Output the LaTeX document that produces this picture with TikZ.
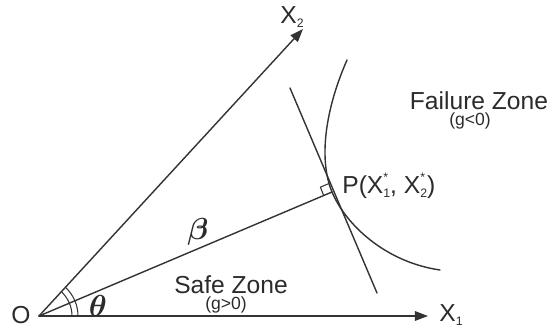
\documentclass[tikz,border=0pt]{standalone}
\usepackage{amsmath,amssymb,bm}
\usepackage{fontspec}
\setsansfont{Liberation Sans}
\usepackage{xcolor}
\usepackage{tikz}
\usetikzlibrary{arrows.meta,calc,positioning}
\definecolor{rlInk}{HTML}{2B2B2B}
\definecolor{rlLine}{HTML}{333333}
\newcommand{\xsub}[1]{X\raisebox{-0.25ex}{\fontsize{7}{8}\selectfont #1}}
\newcommand{\xstar}[1]{X\rlap{\raisebox{0.95ex}{\fontsize{7}{8}\selectfont *}}\raisebox{-0.25ex}{\fontsize{7}{8}\selectfont #1}}
\tikzset{
  rl diagram/.style={font=\sffamily\fontsize{14}{16}\selectfont, text=rlInk,
    line cap=round, line join=round, x=0.02cm, y=-0.02cm},
  rl axis/.style={-{Triangle[length=7.5pt,width=5.5pt]}, draw=rlLine, line width=0.8pt},
  rl line/.style={draw=rlLine, line width=0.8pt},
  rl label/.style={inner sep=0pt},
  rl greek/.style={inner sep=0pt, font=\fontsize{16}{18}\selectfont},
  rl small/.style={inner sep=0pt, font=\sffamily\fontsize{10}{12}\selectfont}
}

\begin{document}
\begin{tikzpicture}[rl diagram]
\useasboundingbox (0,0) rectangle (554,326);
% axes
\coordinate (O) at (39,316);
\coordinate (x1tip) at (428,316);
\coordinate (x2tip) at (303,29);
\draw[rl axis] (O) -- (x1tip);
\draw[rl axis] (O) -- (x2tip);
\node[rl label] (olabel) at (21,315) {O};
\node[rl label,anchor=west] (x1label) at (439,315) {\xsub{1}};
\node[rl label] (x2label) at (292,17) {\xsub{2}};
% design point and tangent
\coordinate (P) at (332,192);
\coordinate (t1) at (290,88);
\coordinate (t2) at (377,293);
\draw[rl line] (O) -- (P);
\draw[rl line] (t1) -- (t2);
\coordinate (ra) at ($(P)!0.18cm!(O)$);
\coordinate (rb) at ($(P)!0.18cm!(t1)$);
\draw[rl line, line width=0.6pt] (ra) -- ($(ra)+(rb)-(P)$) -- (rb);
% limit state curve
\draw[rl line] (347,60) .. controls (325,110) and (318.5,159.7) .. (P)
  .. controls (345.5,224.3) and (385,262) .. (440,270);
% angle marks
\draw[rl line, line width=0.6pt] ([shift={(0:0.66cm)}]O) arc[start angle=0, end angle=47.4, radius=0.66cm];
\draw[rl line, line width=0.6pt] ([shift={(0:0.78cm)}]O) arc[start angle=0, end angle=47.4, radius=0.78cm];
\node[rl greek] (theta) at (98,306) {$\bm{\theta}$};
\node[rl greek] (beta) at (198,232) {$\bm{\beta}$};
\node[rl label,anchor=west] (plabel) at (342,186) {P(\xstar{1}, \xstar{2})};
% zones
\node[rl label] (failzone) at (479,101) {Failure Zone};
\node[rl small] (failg) at (470,121) {(g<0)};
\node[rl label] (safezone) at (231,285) {Safe Zone};
\node[rl small] (safeg) at (226,305) {(g>0)};
\end{tikzpicture}
\end{document}
